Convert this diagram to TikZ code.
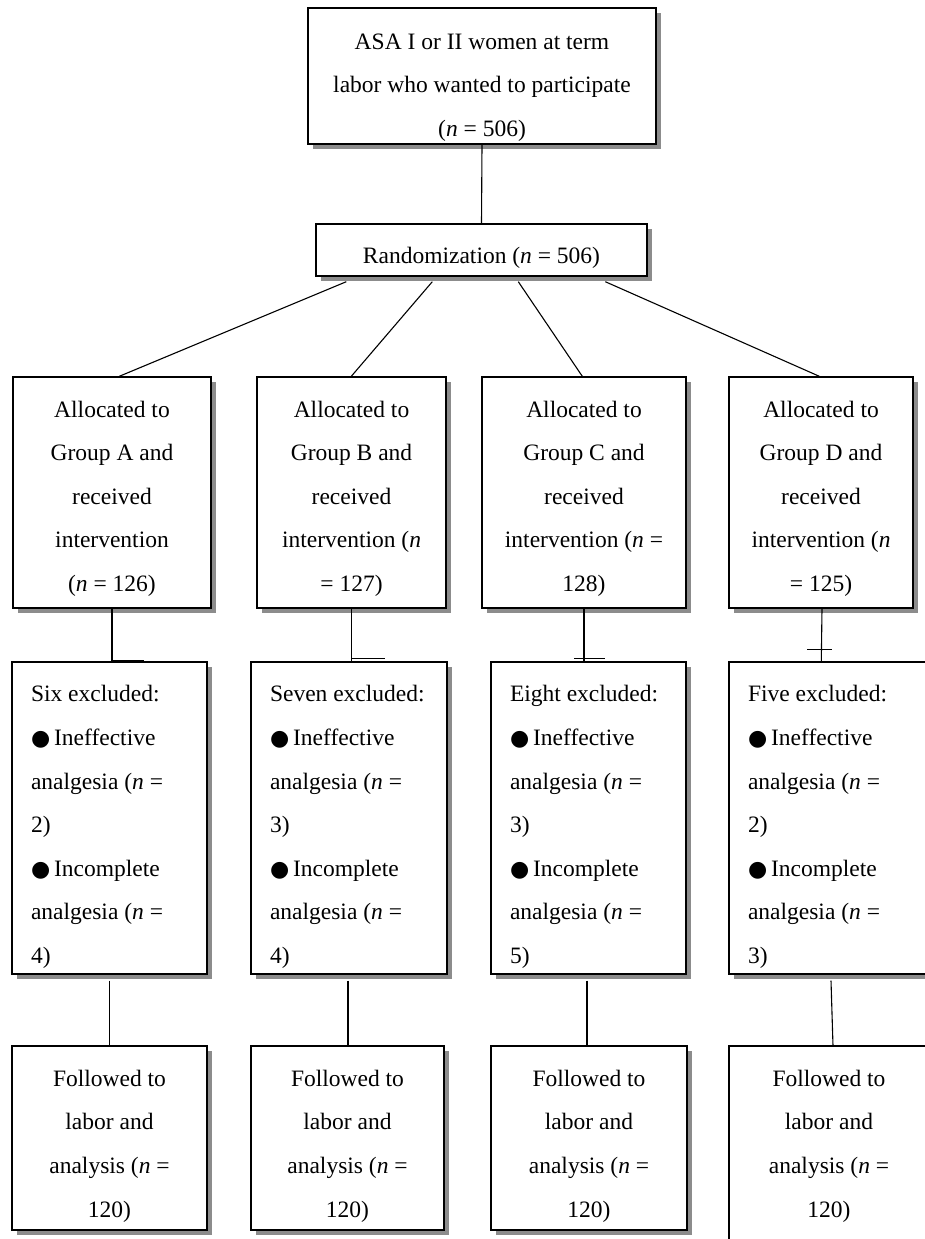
\documentclass[tikz,border=0pt]{standalone}
\usepackage{fontspec}
\setmainfont{Liberation Serif}
\newfontfamily\symfont{DejaVu Sans}
\usetikzlibrary{shadows,calc}
\newcommand{\blackdot}{{\symfont\fontsize{22}{22}\selectfont ●}}
\newcommand{\cbox}[2]{\raisebox{-#1}[\height][\depth]{\begin{tabular}{@{}c@{}}#2\end{tabular}}}
\newcommand{\lbox}[3]{\raisebox{-#1}[\height][\depth]{\begin{tabular}{@{}p{#2}@{}}#3\end{tabular}}}
\begin{document}
\begin{tikzpicture}[x=1pt,y=-1pt,
  box/.style={draw, line width=1.4pt, fill=white, rectangle, inner sep=0pt,
    drop shadow={shadow xshift=5pt, shadow yshift=-5pt, fill=black!45, opacity=1},
    font=\fontsize{23.5}{43.6}\selectfont},
  conn/.style={line width=1.1pt}]
\useasboundingbox (0,0) rectangle (925,1239);
\clip (0,0) rectangle (925,1239);

% top
\node[box, minimum width=348pt, minimum height=136pt] (top) at (482,76)
  {\cbox{8pt}{ASA I or II women at term\\labor who wanted to participate\\(\textit{n} = 506)}};
\node[box, minimum width=331pt, minimum height=52pt] (rand) at (481.5,250)
  {\cbox{5pt}{Randomization (\textit{n} = 506)}};

% groups
\node[box, minimum width=198pt, minimum height=231pt] (gA) at (112,492.5)
  {\cbox{3pt}{Allocated to\\Group A and\\received\\intervention\\(\textit{n} = 126)}};
\node[box, minimum width=189pt, minimum height=231pt] (gB) at (351.5,492.5)
  {\cbox{3pt}{Allocated to\\Group B and\\received\\intervention (\textit{n}\\= 127)}};
\node[box, minimum width=204pt, minimum height=231pt] (gC) at (584,492.5)
  {\cbox{3pt}{Allocated to\\Group C and\\received\\intervention (\textit{n} =\\128)}};
\node[box, minimum width=184pt, minimum height=231pt] (gD) at (821,492.5)
  {\cbox{3pt}{Allocated to\\Group D and\\received\\intervention (\textit{n}\\= 125)}};

% excluded
\node[box, minimum width=195pt, minimum height=312pt] (eA) at (109.5,818)
  {\lbox{6pt}{157pt}{Six excluded:\\\blackdot\,Ineffective\\analgesia (\textit{n} =\\2)\\\blackdot\,Incomplete\\analgesia (\textit{n} =\\4)}};
\node[box, minimum width=196pt, minimum height=312pt] (eB) at (349,818)
  {\lbox{6pt}{158pt}{Seven excluded:\\\blackdot\,Ineffective\\analgesia (\textit{n} =\\3)\\\blackdot\,Incomplete\\analgesia (\textit{n} =\\4)}};
\node[box, minimum width=195pt, minimum height=312pt] (eC) at (588.5,818)
  {\lbox{6pt}{157pt}{Eight excluded:\\\blackdot\,Ineffective\\analgesia (\textit{n} =\\3)\\\blackdot\,Incomplete\\analgesia (\textit{n} =\\5)}};
\node[box, minimum width=200pt, minimum height=312pt] (eD) at (829,818)
  {\lbox{6pt}{162pt}{Five excluded:\\\blackdot\,Ineffective\\analgesia (\textit{n} =\\2)\\\blackdot\,Incomplete\\analgesia (\textit{n} =\\3)}};

% followed
\node[box, minimum width=195pt, minimum height=184pt] (fA) at (109.5,1138)
  {\cbox{5pt}{Followed to\\labor and\\analysis (\textit{n} =\\120)}};
\node[box, minimum width=193pt, minimum height=184pt] (fB) at (347.5,1138)
  {\cbox{5pt}{Followed to\\labor and\\analysis (\textit{n} =\\120)}};
\node[box, minimum width=196pt, minimum height=184pt] (fC) at (589,1138)
  {\cbox{5pt}{Followed to\\labor and\\analysis (\textit{n} =\\120)}};
\node[font=\fontsize{23.5}{43.6}\selectfont, inner sep=0pt,
      minimum width=200pt, minimum height=184pt] (fD) at (829,1138)
  {\cbox{5pt}{Followed to\\labor and\\analysis (\textit{n} =\\120)}};
\draw[line width=1.4pt] ([yshift=-40pt]fD.south west) rectangle (fD.north east);

% connectors
\draw[conn] (top.south) -- (rand.north);
\draw[conn] ($(rand.south west)+(31,5)$) -- ($(gA.north west)+(107,0)$);
\draw[conn] ($(rand.south west)+(117,5)$) -- ($(gB.north west)+(95,0)$);
\draw[conn] ($(rand.south west)+(203,5)$) -- ($(gC.north west)+(101,0)$);
\draw[conn] ($(rand.south west)+(290,5)$) -- ($(gD.north west)+(91,0)$);

\coordinate (sA) at ($(eA.north west)+(133,-1)$);
\draw[conn] (gA.south) -- (gA.south |- sA) -- (sA);
\coordinate (sB) at ($(eB.north west)+(135,-3)$);
\draw[conn] (gB.south) -- (gB.south |- eB.north);
\draw[conn] ($(eB.north west)+(102,-3)$) -- (sB);
\coordinate (sC) at ($(eC.north west)+(115,-3)$);
\draw[conn] (gC.south) -- (gC.south |- eC.north);
\draw[conn] ($(eC.north west)+(84,-3)$) -- (sC);
\coordinate (xD1) at ($(gD.south)+(-14,41)$);
\coordinate (xD2) at ($(gD.south)+(11,41)$);
\draw[conn] ($(gD.south)+(1,0)$) -- ($(eD.north west)+(93,0)$);
\draw[conn] (xD1) -- (xD2);

\draw[conn] ($(eA.south)+(0,6)$) -- (eA.south |- fA.north);
\draw[conn] ($(eB.south)+(-1,6)$) -- ($(fB.north)+(0.5,0)$);
\draw[conn] ($(eC.south)+(-1.5,6)$) -- ($(fC.north)+(-2,0)$);
\draw[conn] ($(eD.south)+(2,6)$) -- ($(fD.north)+(4,0)$);
\end{tikzpicture}
\end{document}
